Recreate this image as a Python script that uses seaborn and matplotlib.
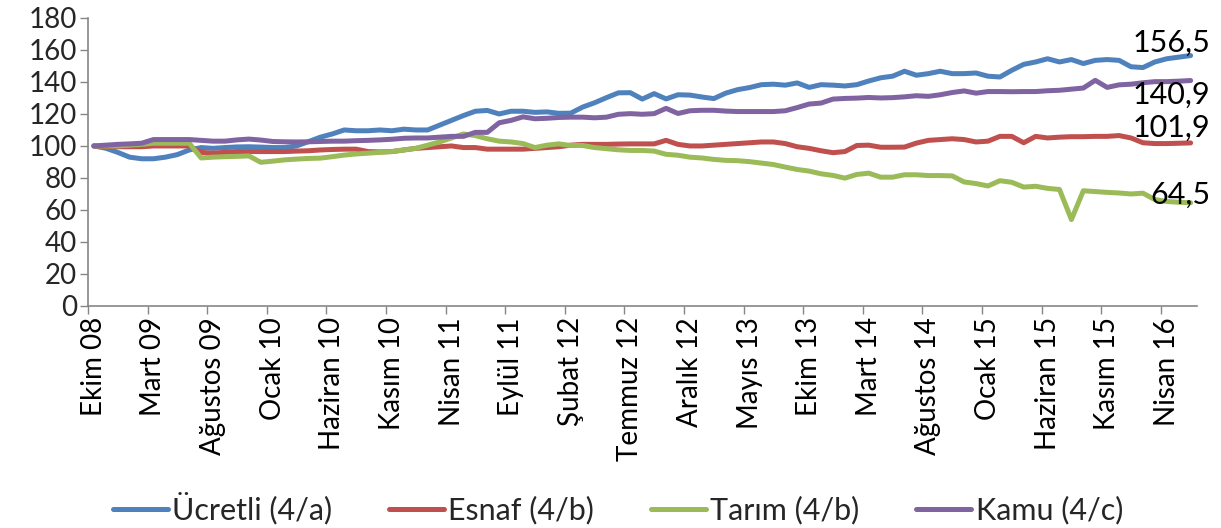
import numpy as np
import pandas as pd
import seaborn as sns
import matplotlib.pyplot as plt

# aylik endeks degerleri, Ekim 2008 - Haziran 2016 (Ekim 08 = 100)
ucretli = [100, 98.6, 96, 93, 92, 92, 93, 94.6, 97.5, 99, 98.5, 99, 99.4, 99.5, 99.3,
           99, 99, 100, 102.7, 105.5, 107.5, 110, 109.5, 109.5, 110, 109.5, 110.5, 110, 110, 113,
           116, 119, 121.7, 122.2, 120, 121.7, 121.7, 121, 121.3, 120.4, 120.5, 124.3, 127, 130.2, 133.2,
           133.3, 129.3, 132.7, 129.4, 132, 131.8, 130.6, 129.6, 133, 135.2, 136.5, 138.3, 138.6, 138, 139.4,
           136.6, 138.3, 138, 137.5, 138.3, 140.6, 142.6, 143.6, 146.7, 144.2, 145.2, 146.7, 145.2, 145.2, 145.6,
           143.6, 143.1, 147.3, 151, 152.5, 154.5, 152.5, 154, 151.5, 153.5, 154, 153.5, 149.5, 149, 152.5,
           154.5, 155.5, 156.5]
esnaf = [100, 99.5, 99.5, 99.5, 99.5, 100, 100, 100, 100, 96, 95.5, 96, 96.5, 96.5, 96.5,
         96.5, 96.5, 96.8, 97, 97.5, 97.8, 98, 98, 96.5, 96.3, 96.5, 97.5, 98.5, 99, 99.5,
         100, 99, 99, 98, 98, 98, 98, 98.5, 99, 99.5, 100.5, 101, 101, 101, 101.2,
         101.3, 101.3, 101.3, 103.5, 101, 100, 100, 100.5, 101, 101.5, 102, 102.5, 102.5, 101.5, 99.5,
         98.5, 97, 95.8, 96.5, 100.3, 100.5, 99.2, 99.2, 99.3, 101.8, 103.5, 104, 104.5, 104, 102.5,
         103, 106, 106, 102, 106, 105, 105.5, 105.8, 105.8, 106, 106, 106.5, 105, 102, 101.5,
         101.5, 101.7, 101.9]
tarim = [100, 100, 100, 100.5, 101, 101.7, 101.7, 101.7, 101.7, 92.5, 93, 93.3, 93.5, 93.8, 89.8,
         90.5, 91.3, 91.8, 92.2, 92.4, 93.3, 94.3, 95, 95.5, 96, 96.5, 97.5, 98.5, 100.5, 102.5,
         105, 107.5, 106.5, 104.5, 103, 102.5, 101.5, 99, 100.5, 101.3, 100.3, 100.3, 99, 98.3, 97.6,
         97.2, 97.2, 96.8, 94.8, 94.2, 93, 92.5, 91.6, 91, 90.8, 90.2, 89.3, 88.4, 86.8, 85.3,
         84.3, 82.6, 81.6, 79.9, 82.2, 83, 80.5, 80.5, 82, 82, 81.5, 81.5, 81.3, 77.5, 76.5,
         75, 78.3, 77.3, 74.3, 74.8, 73.5, 72.8, 54, 72, 71.5, 71, 70.6, 70, 70.5, 66.5,
         65.3, 64.8, 64.5]
kamu = [100, 100.5, 101, 101.3, 101.7, 104, 104, 104, 104, 103.5, 103, 103, 103.8, 104.3, 103.7,
        102.8, 102.6, 102.5, 102.6, 102.8, 103, 103, 103.3, 103.5, 103.8, 104.2, 104.8, 105, 105, 105.5,
        106, 106, 108.5, 108.5, 114.5, 116, 118.2, 117, 117.3, 117.8, 118, 118, 117.6, 118, 119.8,
        120.2, 119.8, 120.2, 123.5, 120.3, 122, 122.3, 122.3, 121.8, 121.5, 121.5, 121.5, 121.5, 122, 124,
        126.2, 126.8, 129.3, 129.7, 129.9, 130.3, 130, 130.2, 130.7, 131.4, 131, 132, 133.4, 134.4, 133,
        134, 134, 133.9, 134, 134, 134.5, 134.8, 135.5, 136.2, 141, 136.6, 138.2, 138.6, 139.5, 140.2,
        140.2, 140.5, 140.9]

seriler = ["Ücretli (4/a)", "Esnaf (4/b)", "Tarım (4/b)", "Kamu (4/c)"]
renkler = ["#4F81BD", "#C0504D", "#9BBB59", "#8064A2"]
etiketler = ["Ekim 08", "Mart 09", "Ağustos 09", "Ocak 10", "Haziran 10", "Kasım 10",
             "Nisan 11", "Eylül 11", "Şubat 12", "Temmuz 12", "Aralık 12", "Mayıs 13",
             "Ekim 13", "Mart 14", "Ağustos 14", "Ocak 15", "Haziran 15", "Kasım 15", "Nisan 16"]

n = len(ucretli)
df = pd.DataFrame({"ay": np.arange(n), seriler[0]: ucretli, seriler[1]: esnaf,
                   seriler[2]: tarim, seriler[3]: kamu})
uzun = df.melt(id_vars="ay", var_name="seri", value_name="deger")

sns.set_theme(style="white")
plt.rcParams["font.family"] = ["Lato", "DejaVu Sans"]
fs = 20
fs_big = 22
gri = "#868686"

fig, ax = plt.subplots(figsize=(12.21, 5.28), dpi=100)
fig.subplots_adjust(left=0.072, right=0.980, bottom=0.4205, top=0.966)

sns.lineplot(data=uzun, x="ay", y="deger", hue="seri", hue_order=seriler,
             palette=renkler, linewidth=3.6, ax=ax)

ax.set_xlim(-0.5, n - 0.5)
ax.set_ylim(0, 180)
ax.set_yticks(range(0, 181, 20))
ax.set_xticks(range(0, n, 5))
ax.set_xticklabels(etiketler, rotation=90)
ax.set_xticks(np.arange(-0.5, n - 1, 5), minor=True)
ax.set_xlabel("")
ax.set_ylabel("")
ax.tick_params(axis="x", which="major", length=0, pad=8, labelsize=fs, colors="black")
ax.tick_params(axis="x", which="minor", length=6, width=1, color=gri, bottom=True)
ax.tick_params(axis="y", length=6, width=1, color=gri, left=True, pad=2, labelsize=fs)
sns.despine(ax=ax)
for s in ["left", "bottom"]:
    ax.spines[s].set_color(gri)
    ax.spines[s].set_linewidth(1.2)

# son deger etiketleri (sira: ucretli, esnaf, tarim, kamu)
ofset = [9, 11, 6, -10]
for seri, dy in zip(seriler, ofset):
    son = df[seri].iloc[-1]
    ax.annotate(f"{son:.1f}".replace(".", ","), xy=(n - 1, son), xytext=(14, dy),
                textcoords="offset points", ha="right", va="center", fontsize=fs_big,
                color="black", annotation_clip=False)

sns.move_legend(ax, "center", bbox_to_anchor=(0.506, 0.038), bbox_transform=fig.transFigure,
                ncol=4, frameon=False, title=None, fontsize=fs_big, handlelength=1.8,
                handletextpad=0.15, columnspacing=1.85)
for h in ax.get_legend().get_lines():
    h.set_linewidth(3.6)

fig.savefig("out.png", dpi=100)
